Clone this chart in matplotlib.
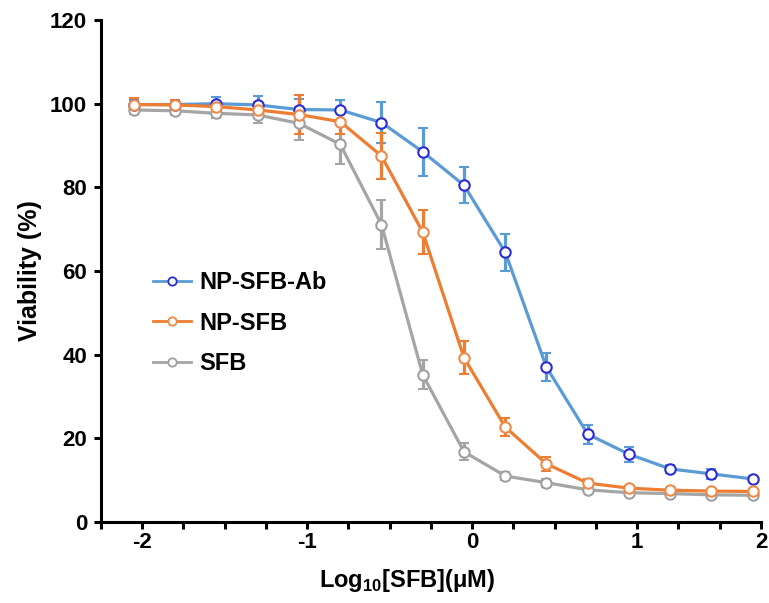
import matplotlib
matplotlib.use("Agg")
import matplotlib.pyplot as plt
from matplotlib.lines import Line2D
import numpy as np

plt.rcParams["font.family"] = ["Liberation Sans", "DejaVu Sans"]
plt.rcParams["font.weight"] = "bold"
plt.rcParams["mathtext.fontset"] = "custom"
plt.rcParams["mathtext.rm"] = "Liberation Sans"
plt.rcParams["mathtext.bf"] = "Liberation Sans:bold"

# log10 concentration (uM)
log_conc = [-2.05, -1.8, -1.55, -1.3, -1.05, -0.8, -0.55, -0.3,
            -0.05, 0.2, 0.45, 0.7, 0.95, 1.2, 1.45, 1.7]

ab_mean = [99.8, 99.8, 100.0, 99.7, 98.6, 98.5, 95.5, 88.5,
           80.5, 64.5, 37.0, 21.0, 16.2, 12.7, 11.5, 10.3]
ab_err = [1.0, 1.0, 1.5, 2.2, 2.5, 2.5, 4.8, 5.8,
          4.3, 4.4, 3.3, 2.3, 1.8, 1.0, 1.2, 0.6]

np_mean = [99.8, 99.7, 99.3, 98.5, 97.4, 95.7, 87.5, 69.3,
           39.3, 22.7, 13.9, 9.3, 8.1, 7.6, 7.4, 7.3]
np_err = [1.5, 1.2, 1.2, 2.0, 4.6, 3.0, 5.4, 5.2,
          4.0, 2.2, 1.6, 1.0, 0.6, 0.6, 0.6, 0.5]

sfb_mean = [98.5, 98.3, 97.7, 97.3, 95.3, 90.3, 71.1, 35.2,
            16.8, 11.0, 9.4, 7.7, 7.0, 6.8, 6.5, 6.4]
sfb_err = [1.0, 1.0, 1.2, 2.0, 4.0, 4.7, 5.9, 3.5,
           2.0, 1.0, 1.0, 0.6, 0.5, 0.5, 0.5, 0.5]

tick_pos = np.arange(-2.25, 1.76, 0.25)
tick_text = {-2.0: "-2", -1.0: "-1", 0.0: "0", 1.0: "1", 1.75: "2"}

fig = plt.figure(figsize=(7.69, 6.03), dpi=100)
ax = fig.add_axes([0.1313, 0.1343, 0.8583, 0.8325])

series = [
    ("SFB", sfb_mean, sfb_err, "#A5A5A5", "#A0A0A0"),
    ("NP-SFB-Ab", ab_mean, ab_err, "#5B9BD5", "#2B2BD8"),
    ("NP-SFB", np_mean, np_err, "#ED7D31", "#F08A48"),
]
proxies = {}
for name, y, err, col, edge in series:
    ax.errorbar(log_conc, y, yerr=err, color=col, lw=2.3, elinewidth=2.3,
                capsize=3.5, capthick=2.3, marker="o", ms=7.5,
                mfc="white", mec=edge, mew=1.5)
    # legend shows line + marker only, no error bar
    proxies[name] = Line2D([], [], color=col, lw=2, marker="o", ms=6,
                           mfc="white", mec=edge, mew=1.3)

order = ["NP-SFB-Ab", "NP-SFB", "SFB"]
ax.legend([proxies[k] for k in order], order, loc="center left",
          bbox_to_anchor=(0.047, 0.396), frameon=False, fontsize=17,
          handlelength=1.6, handletextpad=0.35, labelspacing=0.74)

ax.set_xlim(-2.25, 1.75)
ax.set_ylim(0, 120)
ax.set_yticks(range(0, 121, 20))
ax.set_xticks(tick_pos)
ax.set_xticklabels([tick_text.get(round(t, 2), "") for t in tick_pos])

for side in ["top", "right"]:
    ax.spines[side].set_visible(False)
for side in ["left", "bottom"]:
    ax.spines[side].set_linewidth(2.2)
ax.tick_params(width=2.2, length=5, labelsize=16)
ax.tick_params(axis="x", pad=2)
ax.tick_params(axis="y", pad=5)

ax.set_ylabel("Viability (%)", fontsize=18, fontweight="bold")
ax.yaxis.set_label_coords(-0.0894, 0.5)
ax.set_xlabel(r"Log$_{\mathbf{10}}$[SFB](μM)", fontsize=17, fontweight="bold")
ax.xaxis.set_label_coords(0.464, -0.09)

fig.savefig("out.png", dpi=100)
